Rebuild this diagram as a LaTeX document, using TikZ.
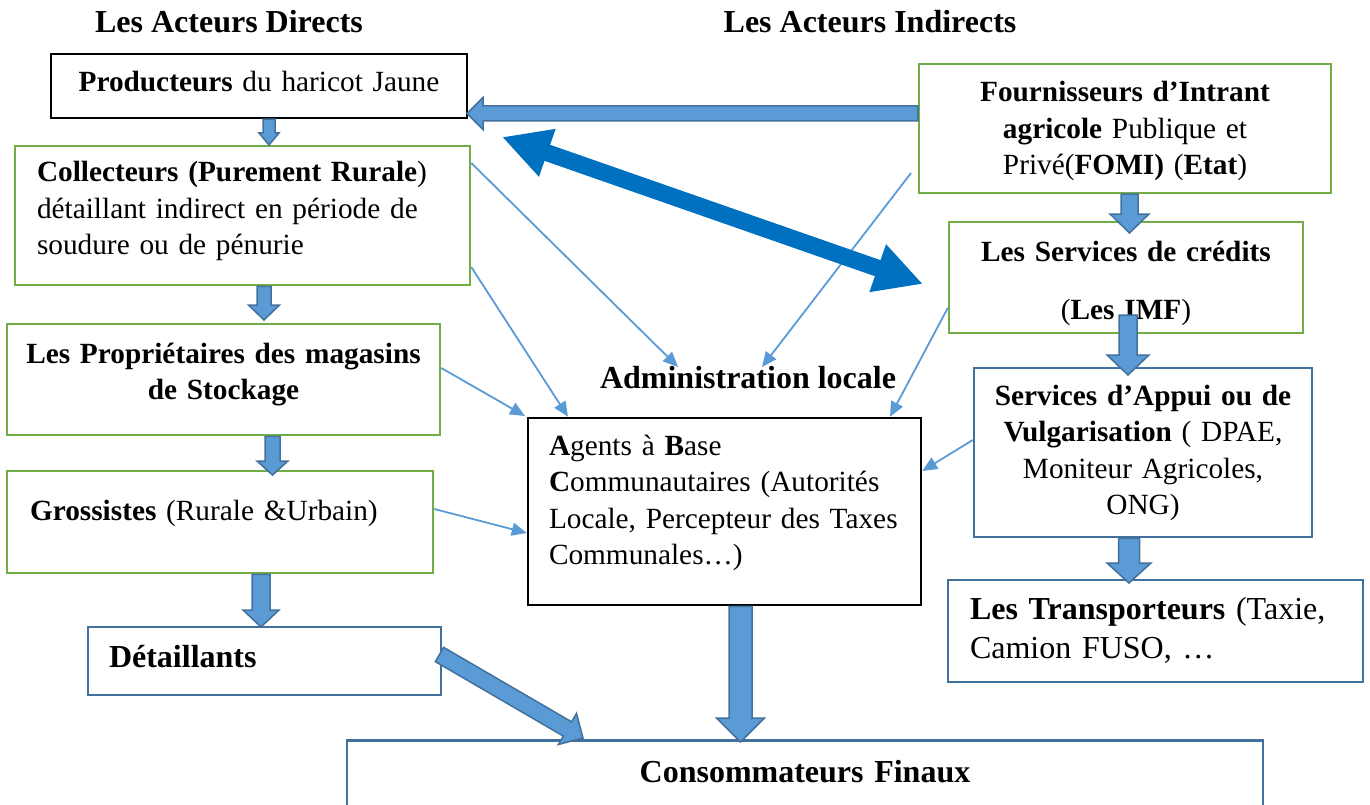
\documentclass[tikz,border=0pt]{standalone}
\usepackage{fontspec}
\setmainfont{Liberation Serif}
\usetikzlibrary{arrows.meta,calc}

\definecolor{boxgreen}{HTML}{70AD47}
\definecolor{boxblue}{HTML}{41719C}
\definecolor{arrfill}{HTML}{5B9BD5}
\definecolor{arrline}{HTML}{41719C}
\definecolor{thinblue}{HTML}{5B9BD5}
\definecolor{dblblue}{HTML}{0070C0}

\tikzset{
  box/.style={draw, line width=2.5pt, rectangle, inner ysep=0pt, text height=21pt},
  greenbox/.style={box, draw=boxgreen},
  blackbox/.style={box, draw=black},
  bluebox/.style={box, draw=boxblue},
  txt/.style={font=\fontsize{29.3}{36.5}\selectfont},
  bigtxt/.style={font=\fontsize{32}{39}\selectfont},
  heading/.style={font=\fontsize{32}{39}\selectfont\bfseries, inner sep=0pt},
  link/.style={draw=thinblue, line width=1.8pt, -{Triangle[length=15pt,width=13pt]}},
  blockarrow/.style={fill=arrfill, draw=arrline, line width=1.5pt, line join=miter},
  twoway/.style={draw=dblblue, line width=17pt,
    {Triangle[length=48pt,width=47pt]}-{Triangle[length=48pt,width=47pt]}},
}

% block arrow: from, to, shaft width, head width, head length (all in pt)
\newcommand\blockarrow[5]{%
  \pgfmathsetmacro\bahalf{#3/2}%
  \pgfmathsetmacro\baHalf{#4/2}%
  \coordinate (ba-base) at ($(#2)!#5pt!(#1)$);
  \draw[blockarrow] ($(#1)!\bahalf pt!90:(#2)$)
    -- ($(ba-base)!\bahalf pt!90:(#2)$)
    -- ($(ba-base)!\baHalf pt!90:(#2)$)
    -- (#2)
    -- ($(ba-base)!\baHalf pt!-90:(#2)$)
    -- ($(ba-base)!\bahalf pt!-90:(#2)$)
    -- ($(#1)!\bahalf pt!-90:(#2)$) -- cycle;
}

\begin{document}
\begin{tikzpicture}[x=1pt,y=-1pt]
\useasboundingbox (0,0) rectangle (1370,805);
\begin{scope}
\clip (0,0) rectangle (1370,805);

% headings
\node[heading] (dir) at (229,22) {Les Acteurs Directs};
\node[heading] (indir) at (870,22) {Les Acteurs Indirects};
\node[heading] (admin) at (748,378) {Administration locale};

% direct actors
\node[blackbox, txt, minimum width=416pt, minimum height=64pt, inner xsep=10pt,
      text width=396pt, align=center, text depth=9pt] (prod) at (259,86)
  {\textbf{Producteurs} du haricot Jaune};
\node[greenbox, txt, minimum width=455pt, minimum height=139pt, inner xsep=22pt,
      text width=411pt, align=left, text depth=88pt] (coll) at (242.5,215.5)
  {\textbf{Collecteurs (Purement Rurale})\\détaillant indirect en période de\\soudure ou de pénurie};
\node[greenbox, txt, minimum width=433pt, minimum height=111pt, inner xsep=10pt,
      text width=413pt, align=center, text depth=54pt] (prop) at (223.5,379.5)
  {\textbf{Les Propriétaires des magasins}\\\textbf{de Stockage}};
\node[greenbox, txt, minimum width=426pt, minimum height=102pt, inner xsep=23pt,
      text width=380pt, align=left, text depth=25pt] (gros) at (220,522)
  {\textbf{Grossistes} (Rurale \&Urbain)};
\node[bluebox, bigtxt, minimum width=353pt, minimum height=68pt, inner xsep=21pt,
      text width=311pt, align=left, text depth=9pt] (det) at (264.5,661)
  {\textbf{Détaillants}};
\node[bluebox, bigtxt, anchor=north, minimum width=916pt, inner xsep=10pt,
      text width=896pt, align=center, text height=42pt, text depth=100pt] (cons) at (805,739)
  {\textbf{Consommateurs Finaux}};

% local administration
\node[blackbox, txt, minimum width=393pt, minimum height=187pt, inner xsep=21pt,
      text width=351pt, align=left, text depth=134pt] (agents) at (724.5,511.5)
  {\textbf{A}gents à \textbf{B}ase\\\textbf{C}ommunautaires (Autorités\\Locale, Percepteur des Taxes\\Communales…)};

% indirect actors
\node[greenbox, txt, minimum width=412pt, minimum height=129pt, inner xsep=10pt,
      text width=392pt, align=center, text depth=74pt] (four) at (1125,128.5)
  {\textbf{Fournisseurs d’Intrant}\\\textbf{agricole} Publique et\\Privé(\textbf{FOMI)} (\textbf{Etat})};
\node[greenbox, txt, minimum width=354pt, minimum height=111pt, inner xsep=10pt,
      text width=334pt, align=center, text depth=54pt] (cred) at (1126,277.5)
  {\textbf{Les Services de crédits}\\[21.5pt](\textbf{Les IMF})};
\node[bluebox, txt, minimum width=338pt, minimum height=169pt, inner xsep=10pt,
      text width=318pt, align=center, text depth=116pt] (appui) at (1143,452.5)
  {\textbf{Services d’Appui ou de}\\\textbf{Vulgarisation} ( DPAE,\\Moniteur Agricoles,\\ONG)};
\node[bluebox, bigtxt, minimum width=415pt, minimum height=102pt, inner xsep=22pt,
      text width=371pt, align=left, text depth=45pt] (trans) at (1155.5,631)
  {\textbf{Les Transporteurs} (Taxie,\\Camion FUSO, …};

% thin links towards the local administration
\coordinate (l1e) at (678,367);
\coordinate (l3s) at (911,173);
\coordinate (l5e) at (525,416);
\draw[link] (coll.east |- 0,163) -- (l1e);
\draw[link] (coll.east |- 0,267) -- (568,0 |- agents.north);
\draw[link] (l3s) -- (762,367);
\draw[link] (cred.west |- 0,308) -- (890,0 |- agents.north);
\draw[link] (prop.east |- 0,368) -- (l5e);
\draw[link] (gros.east |- 0,509) -- (agents.west |- 0,533);
\draw[link] (appui.west |- 0,440) -- (agents.east |- 0,471);

% flow of the chain
\coordinate (a1s) at (269,0 |- prod.south);   \coordinate (a1e) at (269,145);
\coordinate (a2s) at (264,0 |- coll.south);   \coordinate (a2e) at (264,320);
\coordinate (a3s) at (272.5,0 |- prop.south); \coordinate (a3e) at (272.5,475);
\coordinate (a4s) at (261,0 |- gros.south);   \coordinate (a4e) at (261,627);
\coordinate (a5s) at (439.5,654.5);           \coordinate (a5e) at (583,738);
\coordinate (a6s) at (740.5,0 |- agents.south); \coordinate (a6e) at (740.5,742);
\coordinate (a7s) at (four.west |- 0,113.5);  \coordinate (a7e) at (467,113.5);
\coordinate (a8s) at (1129.5,0 |- four.south); \coordinate (a8e) at (1129.5,233);
\coordinate (a9s) at (1128,315);              \coordinate (a9e) at (1128,375);
\coordinate (a10s) at (1129,0 |- appui.south); \coordinate (a10e) at (1129,583);

\blockarrow{a1s}{a1e}{12}{20}{12}
\blockarrow{a2s}{a2e}{14}{31}{15}
\blockarrow{a3s}{a3e}{15}{31}{14}
\blockarrow{a4s}{a4e}{18}{36}{17}
\blockarrow{a5s}{a5e}{16.5}{36}{18}
\blockarrow{a6s}{a6e}{23}{48}{24}
\blockarrow{a7s}{a7e}{15}{32}{16}
\blockarrow{a8s}{a8e}{17}{39}{19}
\blockarrow{a9s}{a9e}{18}{42}{20}
\blockarrow{a10s}{a10e}{21}{44}{20}

% two-way exchange between producers and credit services
\coordinate (dblL) at (502,137);
\coordinate (dblR) at (923,284);
\draw[twoway] (dblL) -- (dblR);
\end{scope}
\end{tikzpicture}
\end{document}
